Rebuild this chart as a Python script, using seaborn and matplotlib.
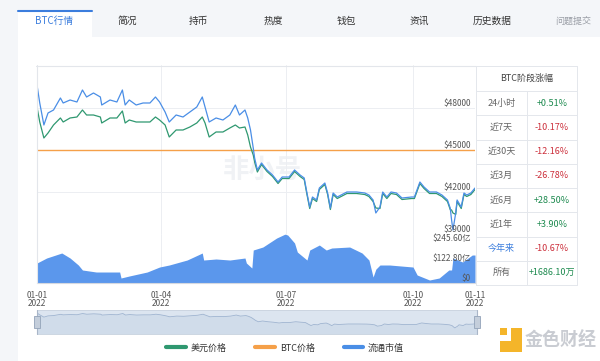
import numpy as np
import pandas as pd
import matplotlib
matplotlib.use('Agg')
import matplotlib.pyplot as plt
import seaborn as sns
from matplotlib.patches import Rectangle
from matplotlib.lines import Line2D

sns.set_theme(style='white')
plt.rcParams['font.family'] = ['Noto Sans CJK SC', 'DejaVu Sans']

# ---------------- data ----------------
price_days = [0, 2, 5, 8, 12, 17, 19, 24, 29, 33, 36, 41, 46, 47, 53, 58, 62, 64, 67, 72,
              77, 82, 86, 89, 93, 96, 101, 106, 111, 116, 120, 122, 125, 130, 135, 140, 144, 147, 151, 153,
              155, 157, 158, 160, 163, 167, 171, 175, 178, 183, 187, 191, 194, 196, 198, 200, 203, 205, 209, 211,
              213, 215, 218, 225, 232, 238, 241, 244, 246, 249, 251, 254, 257, 261, 265, 272, 274, 278, 281, 285,
              290, 294, 298, 300, 301, 302, 304, 305, 308, 310, 312, 315, 318]
blue_line = [49643, 48357, 46786, 47643, 47857, 48714, 48357, 48571, 48429, 49286, 48786, 49071, 48786, 48214, 48571, 48429, 49286, 48214, 48571, 48214,
             48357, 48357, 48786, 48429, 47714, 47000, 47500, 47357, 47714, 48071, 48786, 48071, 47000, 47286, 47143, 47500, 48214, 47500, 47857, 47286,
             46429, 45143, 44429, 43571, 44071, 43571, 43214, 42714, 43071, 43071, 43571, 43214, 43000, 41929, 40929, 41643, 41429, 42286, 42643, 41929,
             40857, 41929, 41643, 42000, 42000, 41929, 41786, 41429, 40500, 40929, 42000, 41643, 42000, 41929, 41571, 41643, 41643, 42714, 42357, 42000,
             42000, 41786, 41429, 40857, 40000, 39286, 40500, 41429, 40929, 41929, 41786, 41929, 42286]
usd_price = [48071, 47000, 45857, 46214, 46786, 47286, 47000, 47286, 47357, 47857, 47500, 47500, 47357, 46929, 47286, 47286, 47786, 46929, 47143, 47000,
             47000, 47000, 47357, 47143, 46786, 45929, 46429, 46429, 46643, 46929, 47357, 46929, 45929, 46286, 46286, 46571, 46786, 46571, 46643, 46071,
             45214, 44643, 44143, 43429, 43964, 43464, 43107, 42607, 42964, 42964, 43464, 43107, 42893, 41821, 40821, 41536, 41321, 42179, 42536, 41821,
             40750, 41821, 41536, 41893, 41893, 41821, 41679, 41321, 40857, 40821, 41893, 41536, 41893, 41821, 41464, 41536, 41536, 42607, 42250, 41893,
             41893, 41679, 41321, 40750, 40714, 40500, 40400, 41321, 40821, 41821, 41679, 41821, 42179]
btc_days = [0, 318]
btc_price = [45000, 45000]

cap_days = [0, 7, 18, 24, 30, 33, 43, 59, 60, 61, 67, 80, 89, 96, 109, 120, 121, 130, 140, 151,
            152, 156, 157, 164, 174, 180, 182, 187, 189, 196, 198, 205, 210, 214, 227, 236, 241, 244, 246, 249,
            256, 273, 276, 285, 292, 299, 301, 302, 309, 316, 318]
market_cap = [122.8, 153.5, 184.2, 153.5, 110.5, 79.8, 67.5, 67.5, 67.5, 30.7, 43.0, 67.5, 98.2, 110.5, 141.2, 184.2, 141.2, 147.4, 141.2, 153.5,
              122.8, 92.1, 202.6, 221.0, 276.3, 300.0, 294.7, 245.6, 190.3, 141.2, 202.6, 233.3, 202.6, 214.9, 221.0, 184.2, 141.2, 36.8, 85.0, 110.5,
              110.5, 98.2, 49.1, 18.4, 30.7, 79.8, 80.0, 153.5, 128.9, 171.9, 171.9]

x_tick_days = [0, 90, 181, 273, 318]
x_tick_labels = ['01-01\n2022', '01-04\n2022', '01-07\n2022', '01-10\n2022', '01-11\n2022']
price_ticks = [39000, 42000, 45000, 48000]
cap_ticks = [0, 122.8, 245.6]
cap_tick_labels = ['$0', '$122.80亿', '$245.60亿']

tabs = ['BTC行情', '简况', '持币', '热度', '钱包', '资讯', '历史数据', '问题提交']
table_title = 'BTC阶段涨幅'
period_labels = ['24小时', '近7天', '近30天', '近3月', '近6月', '近1年', '今年来', '所有']
period_changes = ['+0.51%', '-10.17%', '-12.16%', '-26.78%', '+28.50%', '+3.90%', '-10.67%', '+1686.10万']
legend_labels = ['美元价格', 'BTC价格', '流通市值']

# ---------------- styling ----------------
GREEN = '#2f9870'
ORANGE = '#f5a049'
BLUE = '#4a8ee6'
AREA = '#5b97ec'
GRID = '#eceef2'
FRAME = '#e3e6eb'
TXT = '#555555'

W, H = 600, 361
fig = plt.figure(figsize=(6, 3.61), dpi=100)
fig.patch.set_facecolor('#f4f6f9')


def add_ax(x0, y0, x1, y1):
    return fig.add_axes([x0 / W, 1 - y1 / H, (x1 - x0) / W, (y1 - y0) / H])


def frect(x0, y0, x1, y1, **kw):
    r = Rectangle((x0 / W, 1 - y1 / H), (x1 - x0) / W, (y1 - y0) / H,
                  transform=fig.transFigure, **kw)
    fig.add_artist(r)
    return r


def fline(x0, y0, x1, y1, **kw):
    fig.add_artist(Line2D([x0 / W, x1 / W], [1 - y0 / H, 1 - y1 / H],
                          transform=fig.transFigure, **kw))


def ftext(px, py, s, **kw):
    fig.text(px / W, 1 - py / H, s, **kw)


# background panels
frect(18, 37, 600, 361, fc='white', ec='none', zorder=-5)
frect(18, 10, 92, 37, fc='white', ec='none', zorder=-5)
fline(18, 10.5, 92, 10.5, color='#3b7ddd', lw=1.5, zorder=-4)

tab_x = [54, 127, 198, 273, 346, 419, 492, 573]
for i, (t, x) in enumerate(zip(tabs, tab_x)):
    if i == 0:
        ftext(x, 21, t, ha='center', va='center', fontsize=7, color='#3b7ddd')
    elif i == len(tabs) - 1:
        ftext(x, 21, t, ha='center', va='center', fontsize=6.5, color='#9a9ea6')
    else:
        ftext(x, 21, t, ha='center', va='center', fontsize=7, color='#333333')

# chart frame
fline(36, 65.5, 476, 65.5, color=FRAME, lw=0.8)
fline(36.5, 65, 36.5, 283, color=FRAME, lw=0.8)

# watermark (behind the chart axes)
ftext(262, 170, '非小号', ha='center', va='center', fontsize=19, color='#f0f2f5',
      fontweight='bold', zorder=-3)

# ---------------- price panel ----------------
ax1 = add_ax(37, 65, 475, 234)
ax1.set_facecolor('none')
sns.lineplot(x=btc_days, y=btc_price, ax=ax1, color=ORANGE, lw=1.0)
sns.lineplot(x=price_days, y=usd_price, ax=ax1, color=GREEN, lw=0.9)
sns.lineplot(x=price_days, y=blue_line, ax=ax1, color=BLUE, lw=0.9)
ax1.set_xlim(0, 318)
ax1.set_ylim(39000, 51071)
ax1.set_xticks(x_tick_days[1:4])
ax1.set_yticks(price_ticks)
ax1.grid(True, color=GRID, lw=0.7)
ax1.tick_params(left=False, bottom=False, labelleft=False, labelbottom=False)
ax1.set_xlabel('')
ax1.set_ylabel('')
for s in ax1.spines.values():
    s.set_visible(False)
for v in price_ticks:
    ax1.text(0.99, v, f'${v}', transform=ax1.get_yaxis_transform(), ha='right',
             va='bottom', fontsize=6, color=TXT)

# ---------------- market cap panel ----------------
ax2 = add_ax(37, 234, 475, 283)
ax2.set_facecolor('none')
ax2.fill_between(cap_days, market_cap, 0, color=AREA, lw=0)
ax2.set_xlim(0, 318)
ax2.set_ylim(0, 301)
ax2.set_yticks(cap_ticks)
ax2.grid(True, axis='x', color=GRID, lw=0.7)
ax2.set_xticks(x_tick_days)
ax2.set_xticklabels(x_tick_labels, fontsize=6, color=TXT, linespacing=0.85)
ax2.tick_params(left=False, bottom=False, labelleft=False, pad=0)
for k, s in ax2.spines.items():
    s.set_visible(k == 'bottom')
ax2.spines['bottom'].set_color('#d5d9e0')
ax2.spines['bottom'].set_linewidth(0.8)
for v, lab in zip(cap_ticks, cap_tick_labels):
    ax2.text(0.99, v, lab, transform=ax2.get_yaxis_transform(), ha='right',
             va='bottom', fontsize=6, color=TXT)

# ---------------- slider ----------------
ax3 = add_ax(37, 310, 477, 334)
ax3.set_facecolor('#dce5f0')
ax3.fill_between(price_days, blue_line, 35045, color='#d0dcea', lw=0)
sns.lineplot(x=price_days, y=blue_line, ax=ax3, color='#9fb4d0', lw=0.6)
ax3.set_xlim(0, 318)
ax3.set_ylim(35045, 51725)
ax3.set_xticks([])
ax3.set_yticks([])
ax3.set_xlabel('')
ax3.set_ylabel('')
for s in ax3.spines.values():
    s.set_color('#c9d3df')
    s.set_linewidth(0.6)
for hx in (37, 477):
    fline(hx, 310, hx, 334, color='#a9b6c8', lw=0.8)
    frect(hx - 3, 316, hx + 3, 328, fc='#c4cedb', ec='#93a3b9', lw=0.6, zorder=5)

# ---------------- legend ----------------
handles = [Line2D([], [], color=GREEN, lw=3),
           Line2D([], [], color=ORANGE, lw=3),
           Line2D([], [], color=BLUE, lw=3)]
fig.legend(handles, legend_labels, loc='center', bbox_to_anchor=(285 / W, 1 - 348 / H),
           ncol=3, frameon=False, fontsize=6.5, handlelength=2.2, columnspacing=3.2,
           handletextpad=0.5, labelcolor='#333333')

# ---------------- logo ----------------
frect(500, 328, 507, 335, fc='#f4b52a', ec='none')
frect(511, 328, 522, 352, fc='#f4b52a', ec='none')
frect(500, 341, 522, 352, fc='#f4b52a', ec='none')
ftext(561, 340, '金色财经', ha='center', va='center', fontsize=13, color='#c9ccd2',
      fontweight='bold')

# ---------------- table ----------------
tx0, tx1, tx2 = 476, 527, 577
ty0 = 66
ty1 = 91
rh = 24.25
tb_color = '#e4e7ec'
ty_end = ty1 + rh * len(period_labels)
fline(tx0, ty0, tx2, ty0, color=tb_color, lw=0.7)
fline(tx0, ty0, tx0, ty_end, color=tb_color, lw=0.7)
fline(tx2, ty0, tx2, ty_end, color=tb_color, lw=0.7)
fline(tx1, ty1, tx1, ty_end, color=tb_color, lw=0.7)
fline(tx0, ty1, tx2, ty1, color=tb_color, lw=0.7)
ftext((tx0 + tx2) / 2, (ty0 + ty1) / 2, table_title, ha='center', va='center',
      fontsize=6.5, color='#444444')
for i, (lab, val) in enumerate(zip(period_labels, period_changes)):
    top = ty1 + rh * i
    fline(tx0, top + rh, tx2, top + rh, color=tb_color, lw=0.7)
    lc = '#3b7ddd' if lab == '今年来' else '#666666'
    ftext((tx0 + tx1) / 2, top + rh / 2, lab, ha='center', va='center', fontsize=6.5, color=lc)
    vc = '#1d8a4f' if val.startswith('+') else '#cc2f3b'
    ftext((tx1 + tx2) / 2, top + rh / 2, val, ha='center', va='center', fontsize=6.5, color=vc)

fig.savefig('out.png', dpi=100, facecolor=fig.get_facecolor())
